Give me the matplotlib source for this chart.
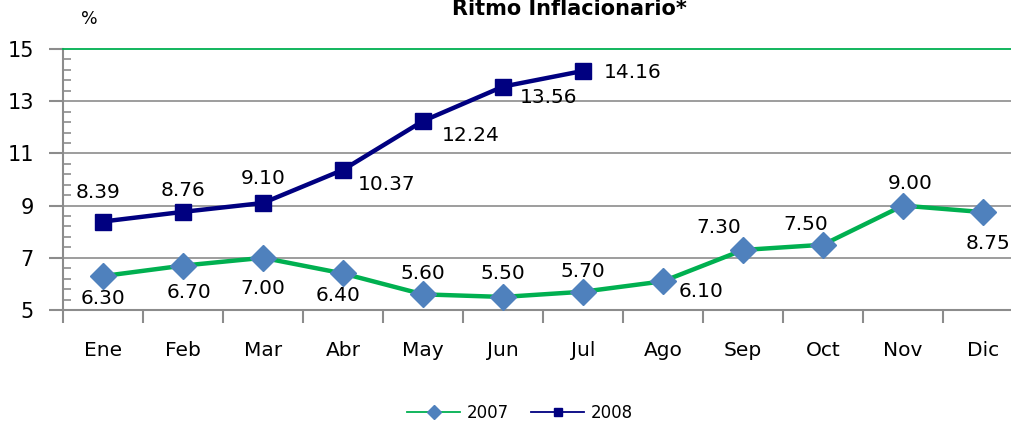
import matplotlib
matplotlib.use('Agg')
import matplotlib.pyplot as plt
from matplotlib.lines import Line2D
from matplotlib.ticker import FixedLocator, NullFormatter

months = ["Ene", "Feb", "Mar", "Abr", "May", "Jun", "Jul", "Ago", "Sep", "Oct", "Nov", "Dic"]
vals_2007 = [6.30, 6.70, 7.00, 6.40, 5.60, 5.50, 5.70, 6.10, 7.30, 7.50, 9.00, 8.75]
vals_2008 = [8.39, 8.76, 9.10, 10.37, 12.24, 13.56, 14.16]
yticks = [5, 7, 9, 11, 13, 15]

# label offsets in pixels (dx, dy), placement only
off_2007 = [(0, -22), (6, -27), (0, -31), (-5, -22), (0, 21), (0, 23), (0, 20),
            (38, -10), (-24, 22), (-17, 20), (7, 22), (5, -31)]
off_2008 = [(-5, 29), (0, 21), (0, 24), (44, -15), (48, -14), (46, -11), (50, -2)]

GREEN = "#00B050"
BLUE = "#4F81BD"
NAVY = "#000080"
GRID = "#8C8C8C"

plt.rcParams['font.family'] = ['DejaVu Sans']

fig = plt.figure(figsize=(10.12, 4.21), dpi=100)
ax = fig.add_axes([63 / 1012, 111 / 421, 960 / 1012, 261 / 421])

x07 = list(range(len(vals_2007)))
x08 = list(range(len(vals_2008)))
ax.plot(x07, vals_2007, color=GREEN, lw=3.2, marker='D', ms=13,
        mfc=BLUE, mec=BLUE, zorder=3, clip_on=False)
ax.plot(x08, vals_2008, color=NAVY, lw=3.2, marker='s', ms=11.5,
        mfc=NAVY, mec=NAVY, zorder=3, clip_on=False)

for xs, vs, offs in ((x07, vals_2007, off_2007), (x08, vals_2008, off_2008)):
    for x, v, (dx, dy) in zip(xs, vs, offs):
        ax.annotate(f"{v:.2f}", (x, v), xytext=(dx, dy), textcoords='offset pixels',
                    ha='center', va='center', fontsize=14.5, color='black', zorder=4)

ax.set_xlim(-0.5, 11.5)
ax.set_ylim(5, 15)

ax.set_xticks(x07)
ax.set_xticklabels(months, fontsize=14.5)
ax.xaxis.set_minor_locator(FixedLocator([i - 0.5 for i in range(13)]))
ax.tick_params(axis='x', which='major', length=0, pad=22)
ax.tick_params(axis='x', which='minor', length=9, width=1.5, color=GRID, direction='out')

ax.yaxis.set_major_locator(FixedLocator(yticks))
ax.yaxis.set_minor_locator(FixedLocator([5 + 0.4 * i for i in range(26)]))
ax.yaxis.set_minor_formatter(NullFormatter())
ax.tick_params(axis='y', which='major', length=10, width=1.5, color=GRID,
               direction='out', labelsize=15, pad=11)
ax.tick_params(axis='y', which='minor', length=6, width=1.2, color=GRID, direction='in')

for y in yticks[1:-1]:
    ax.axhline(y, color=GRID, lw=1.2, zorder=1)

ax.spines['top'].set_color(GREEN)
ax.spines['top'].set_linewidth(1.3)
ax.spines['right'].set_visible(False)
ax.spines['left'].set_color(GRID)
ax.spines['left'].set_linewidth(1.5)
ax.spines['bottom'].set_color(GRID)
ax.spines['bottom'].set_linewidth(1.5)

fig.text(569 / 1012, 1 - 15 / 421, "Ritmo Inflacionario*", ha='center', va='baseline',
         fontsize=15, fontweight='bold')
fig.text(89 / 1012, 1 - 19 / 421, "%", ha='center', va='center', fontsize=12.5)

handles = [
    Line2D([], [], color=GREEN, lw=1.3, marker='D', ms=7, mfc=BLUE, mec=BLUE),
    Line2D([], [], color=NAVY, lw=1.3, marker='s', ms=6, mfc=NAVY, mec=NAVY),
]
fig.legend(handles, ["2007", "2008"], loc='center', bbox_to_anchor=(520 / 1012, 1 - 413 / 421),
           ncol=2, frameon=False, fontsize=12, handlelength=3.2, handletextpad=0.4,
           columnspacing=1.3)

fig.savefig("out.png", dpi=100)
